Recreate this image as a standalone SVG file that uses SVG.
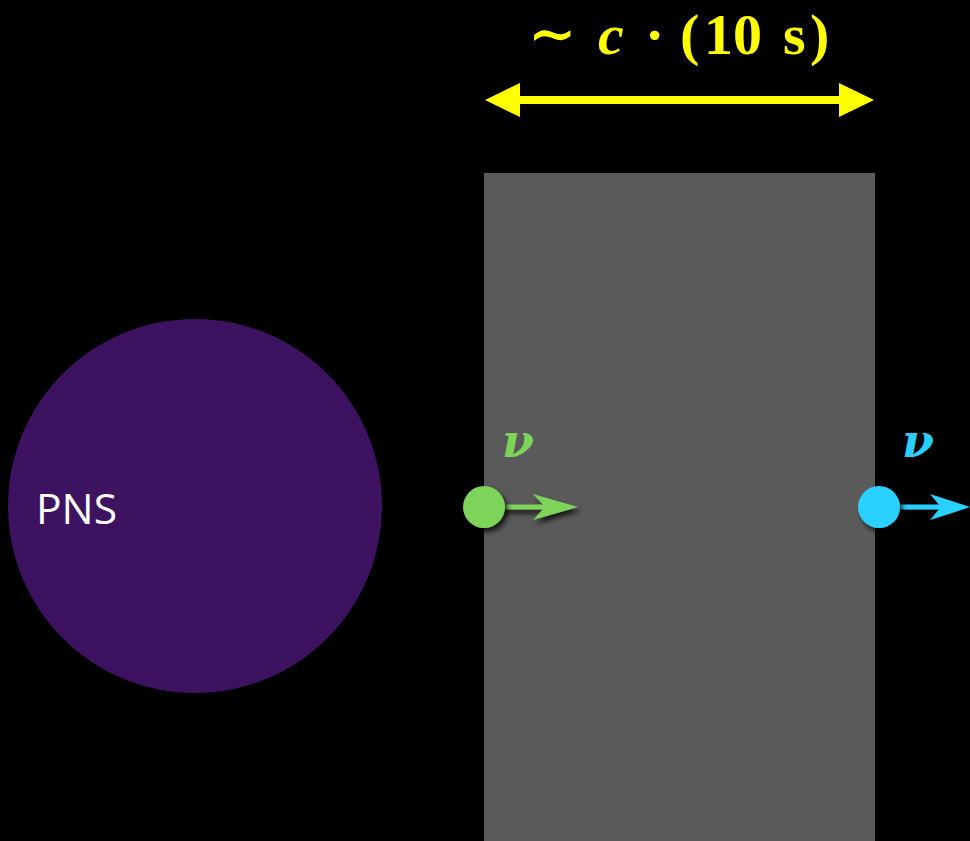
<svg xmlns="http://www.w3.org/2000/svg" width="970" height="841" viewBox="0 0 970 841">
<defs>
<style>
.math{font-family:"Liberation Serif","DejaVu Serif",serif;font-weight:bold;fill:#ffff00;font-size:58px}
.nu{font-family:"DejaVu Serif","Liberation Serif",serif;font-weight:bold;font-style:italic;font-size:46px}
</style>
<filter id="sh" x="-50%" y="-50%" width="200%" height="200%">
<feDropShadow dx="3" dy="4" stdDeviation="2.5" flood-color="#000" flood-opacity="0.75"/>
</filter>
</defs>
<rect width="970" height="841" fill="#000"/>
<g id="slab"><rect x="484" y="173" width="391" height="668" fill="#5a5a5a"/></g>
<g id="pns">
<circle cx="195" cy="506" r="187" fill="#3d1361"/>
<text x="36" y="524" font-family="'Open Sans','Liberation Sans',sans-serif" font-size="42" fill="#fff" textLength="81" lengthAdjust="spacingAndGlyphs">PNS</text>
</g>
<g id="scale">
<line x1="515" y1="100" x2="845" y2="100" stroke="#ffff00" stroke-width="8"/>
<polygon points="485,100 520,83 520,117" fill="#ffff00"/>
<polygon points="874,100 839,83 839,117" fill="#ffff00"/>
<text class="math" x="528" y="54" font-family="'DejaVu Serif',serif" font-weight="normal" font-size="56">∼</text>
<text class="math" x="598" y="54" font-style="italic">c</text>
<text class="math" x="645" y="54">·</text>
<text class="math" x="680" y="54">(</text>
<text class="math" x="704" y="54">10</text>
<text class="math" x="783" y="54">s</text>
<text class="math" x="810" y="54">)</text>
</g>
<g id="connectors">
<g filter="url(#sh)">
<line x1="500" y1="507" x2="548" y2="507" stroke="#7ed35a" stroke-width="5"/>
<path d="M578,507 L533,494 L545,507 L533,520 Z" fill="#7ed35a"/>
<line x1="895" y1="507" x2="942" y2="507" stroke="#29d0ff" stroke-width="5"/>
<path d="M970,507 L930,494 L941,507 L930,520 Z" fill="#29d0ff"/>
</g>
</g>
<g id="nu-green">
<circle cx="484" cy="507" r="21" fill="#7ed35a" filter="url(#sh)"/>
<text class="nu" x="502" y="457" fill="#7ed35a">ν</text>
</g>
<g id="nu-blue">
<circle cx="879" cy="507" r="21" fill="#29d0ff" filter="url(#sh)"/>
<text class="nu" x="902" y="457" fill="#29d0ff">ν</text>
</g>
</svg>
